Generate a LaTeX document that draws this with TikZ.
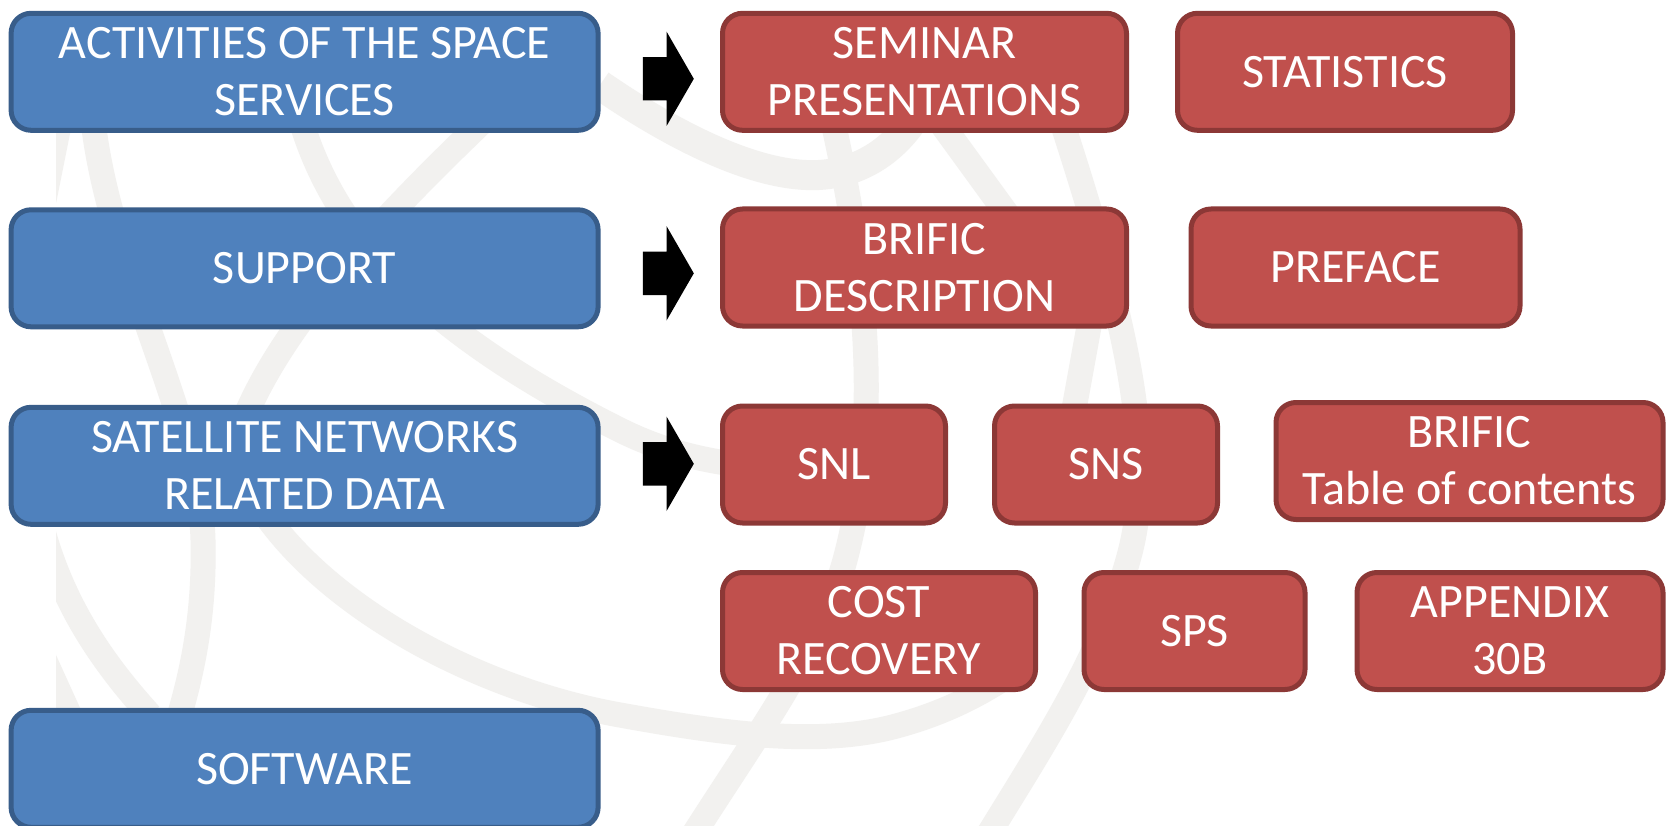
\documentclass[tikz,border=0pt]{standalone}
\usepackage{fontspec}
\setmainfont{Carlito}
\usetikzlibrary{positioning,shapes.arrows}

\definecolor{topicfill}{RGB}{79,129,189}
\definecolor{topicline}{RGB}{56,93,138}
\definecolor{itemfill}{RGB}{192,80,77}
\definecolor{itemline}{RGB}{140,56,54}
\definecolor{globegray}{RGB}{242,241,239}

\begin{document}
\begin{tikzpicture}[x=1pt, y=-1pt,
	basic/.style   = {draw, rounded corners=20pt, line width=5pt, text=white, align=center, inner sep=0pt, font=\fontsize{48}{57}\selectfont},
	topic/.style   = {basic, fill=topicfill, draw=topicline, minimum width=587pt, minimum height=117pt},
	item/.style    = {basic, fill=itemfill, draw=itemline, minimum height=117pt},
	pointer/.style = {single arrow, fill=black, inner xsep=0pt, inner ysep=21.5pt, minimum height=51pt, single arrow head extend=25.5pt, single arrow tip angle=120},
	globe/.style   = {draw=globegray, line width=25pt}]

	\useasboundingbox[fill=white] (0,0) rectangle (1667,826);

	% faint globe in the background
	\begin{scope}
		\clip (56,0) rectangle (1667,826);
		\draw[globe] (62,110) -- (44,200);
		\draw[globe] (92,110) .. controls (105,260) and (200,420) .. (203,540) .. controls (205,620) and (190,680) .. (178,720);
		\draw[globe] (298,110) .. controls (330,230) and (420,330) .. (620,430) .. controls (660,450) and (700,460) .. (740,465);
		\draw[globe] (500,105) .. controls (400,200) and (280,320) .. (240,430);
		\draw[globe, line width=30pt] (600,85) .. controls (680,140) and (760,178) .. (819,175) .. controls (870,172) and (905,140) .. (925,100);
		\draw[globe] (828,100) .. controls (870,280) and (880,430) .. (845,560) .. controls (820,650) and (760,730) .. (690,840);
		\draw[globe] (1058,110) .. controls (1120,300) and (1160,450) .. (1128,560) .. controls (1100,660) and (1040,750) .. (985,840);
		\draw[globe] (1092,310) -- (1072,420);
		\draw[globe] (935,115) -- (1015,225);
		\draw[globe] (40,520) .. controls (60,600) and (100,660) .. (150,715);
		\draw[globe] (262,510) .. controls (330,610) and (480,690) .. (620,715) .. controls (720,733) and (820,748) .. (900,725) .. controls (950,711) and (990,690) .. (1030,660);
		\draw[globe] (40,650) -- (90,760);
	\end{scope}

	% topics on the left
	\node[topic] (act) at (304.6,71.8) {ACTIVITIES OF THE SPACE\\SERVICES};
	\node[topic, below=74.5pt of act] (sup) {SUPPORT};
	\node[topic, below=75.5pt of sup] (sat) {SATELLITE NETWORKS\\RELATED DATA};
	\node[topic, below=181pt of sat] (soft) {SOFTWARE};

	% items on the right
	\node[item, minimum width=404pt] (sem) at (924.5,71.8) {SEMINAR\\PRESENTATIONS};
	\node[item, minimum width=335pt, right=46pt of sem] (stat) {STATISTICS};

	\node[item, minimum width=404pt] (desc) at (924.5,267.5) {BRIFIC\\DESCRIPTION};
	\node[item, minimum width=329pt, right=59.5pt of desc] (pref) {PREFACE};

	\node[item, minimum width=223pt] (snl) at (834,464.5) {SNL};
	\node[item, minimum width=223pt, right=44pt of snl] (sns) {SNS};
	\node[item, minimum width=387pt, right=53.5pt of sns, yshift=3.5pt] (toc) {BRIFIC\\Table of contents};

	\node[item, minimum width=313pt] (cost) at (879,631) {COST\\RECOVERY};
	\node[item, minimum width=221pt, right=43.5pt of cost] (sps) {SPS};
	\node[item, minimum width=306pt, right=47pt of sps] (app) {APPENDIX\\30B};

	% block arrows
	\node[pointer, right=42pt of act, yshift=-7pt] (p1) {};
	\node[pointer, right=42pt of sup, yshift=-5pt] (p2) {};
	\node[pointer, right=42pt of sat, yshift=2pt] (p3) {};

\end{tikzpicture}
\end{document}
